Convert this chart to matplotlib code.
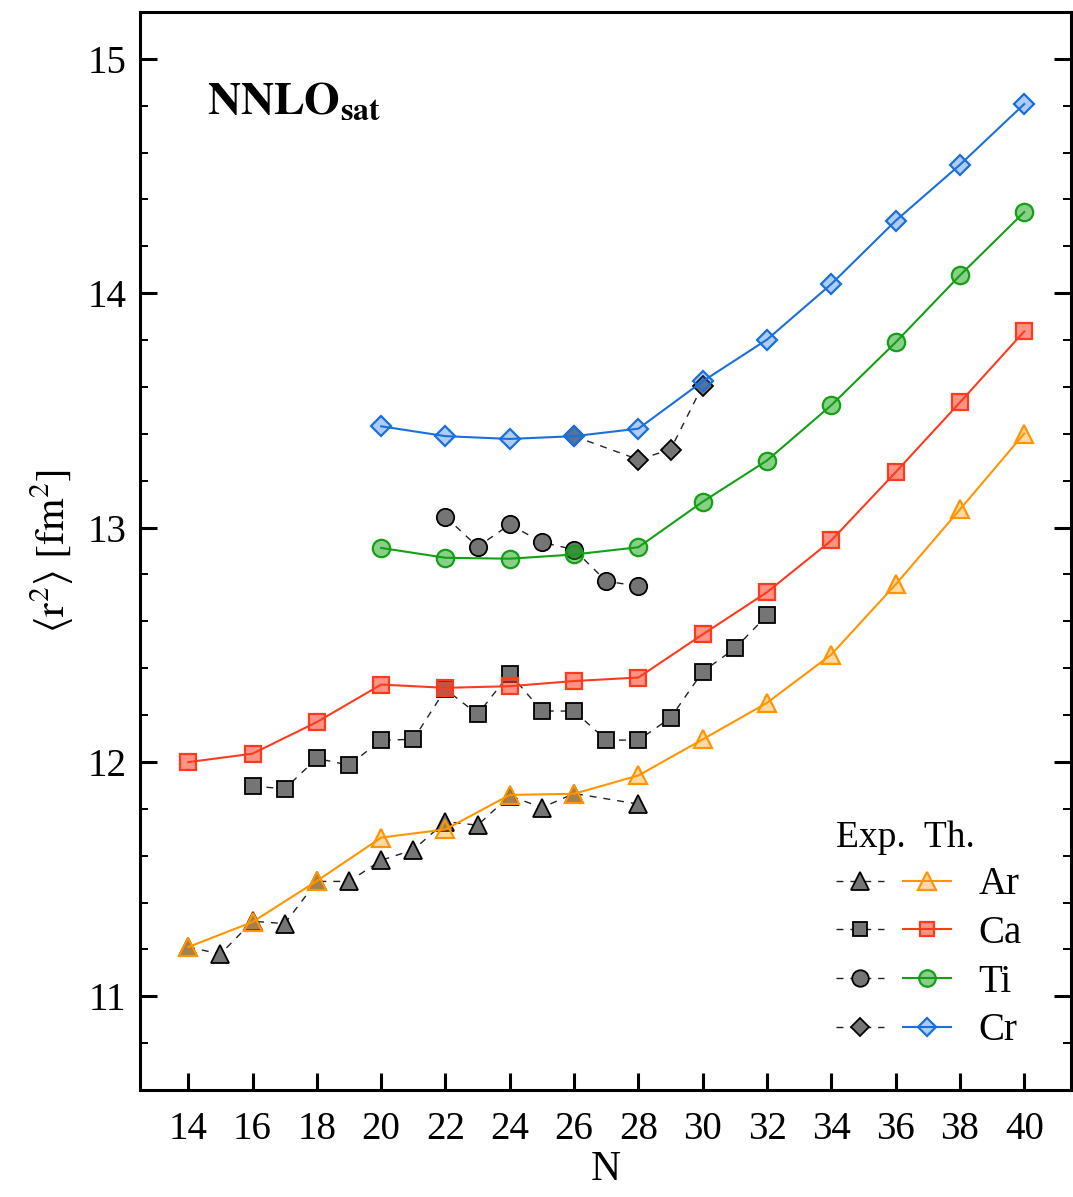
import matplotlib
matplotlib.use("Agg")
import matplotlib.pyplot as plt
from matplotlib.colors import to_rgba
from matplotlib.legend_handler import HandlerTuple
from matplotlib.ticker import MultipleLocator

plt.rcParams['font.family'] = ['Liberation Serif', 'DejaVu Serif']
plt.rcParams['mathtext.fontset'] = 'stix'

# Experimental mean-square charge radii
ar_exp_n = [14, 15, 16, 17, 18, 19, 20, 21, 22, 23, 24, 25, 26, 28]
ar_exp_r2 = [11.21, 11.18, 11.32, 11.31, 11.49, 11.49, 11.58, 11.625, 11.745,
             11.73, 11.855, 11.805, 11.865, 11.82]
ca_exp_n = [16, 17, 18, 19, 20, 21, 22, 23, 24, 25, 26, 27, 28, 29, 30, 31, 32]
ca_exp_r2 = [11.897, 11.885, 12.015, 11.986, 12.093, 12.096, 12.31, 12.203,
             12.377, 12.217, 12.217, 12.093, 12.093, 12.188, 12.385, 12.484, 12.625]
ti_exp_n = [22, 23, 24, 25, 26, 27, 28]
ti_exp_r2 = [13.046, 12.918, 13.013, 12.937, 12.906, 12.771, 12.75]
cr_exp_n = [26, 28, 29, 30]
cr_exp_r2 = [13.39, 13.29, 13.333, 13.606]

# NNLOsat results
ar_th_n = [14, 16, 18, 20, 22, 24, 26, 28, 30, 32, 34, 36, 38, 40]
ar_th_r2 = [11.21, 11.317, 11.492, 11.677, 11.712, 11.859, 11.864, 11.942,
            12.096, 12.252, 12.458, 12.757, 13.077, 13.401]
ca_th_n = [14, 16, 18, 20, 22, 24, 26, 28, 30, 32, 34, 36, 38, 40]
ca_th_r2 = [11.999, 12.035, 12.17, 12.33, 12.316, 12.323, 12.345, 12.36,
            12.544, 12.724, 12.945, 13.236, 13.534, 13.837]
ti_th_n = [20, 22, 24, 26, 28, 30, 32, 34, 36, 38, 40]
ti_th_r2 = [12.913, 12.871, 12.867, 12.885, 12.916, 13.11, 13.286, 13.522,
            13.79, 14.076, 14.346]
cr_th_n = [20, 22, 24, 26, 28, 30, 32, 34, 36, 38, 40]
cr_th_r2 = [13.432, 13.39, 13.378, 13.39, 13.422, 13.624, 13.802, 14.039,
            14.309, 14.548, 14.807]

elements = ['Ar', 'Ca', 'Ti', 'Cr']
markers = ['^', 's', 'o', 'D']
msizes = [13, 11, 12.5, 10]
th_colors = ['#ff9500', '#ff3b1f', '#14a014', '#1a6fdb']
face_alpha = [0.35, 0.55, 0.5, 0.35]

exp_sets = [(ar_exp_n, ar_exp_r2), (ca_exp_n, ca_exp_r2),
            (ti_exp_n, ti_exp_r2), (cr_exp_n, cr_exp_r2)]
th_sets = [(ar_th_n, ar_th_r2), (ca_th_n, ca_th_r2),
           (ti_th_n, ti_th_r2), (cr_th_n, cr_th_r2)]

fig = plt.figure(figsize=(10.73, 11.97), dpi=100)
ax = fig.add_axes([0.1305, 0.0894, 0.8675, 0.9006])

handles = []
for i, el in enumerate(elements):
    en, er = exp_sets[i]
    tn, tr = th_sets[i]
    he, = ax.plot(en, er, linestyle=(0, (5, 5)), color='#222222', lw=1.0,
                  marker=markers[i], ms=msizes[i], mfc='#757575', mec='black',
                  mew=1.3, zorder=2)
    ht, = ax.plot(tn, tr, linestyle='-', color=th_colors[i], lw=1.5,
                  marker=markers[i], ms=msizes[i],
                  mfc=to_rgba(th_colors[i], face_alpha[i]),
                  mec=th_colors[i], mew=1.6, zorder=3)
    handles.append((he, ht))

ax.set_xlim(12.5, 41.45)
ax.set_ylim(10.6, 15.2)
ax.xaxis.set_major_locator(MultipleLocator(2))
ax.yaxis.set_major_locator(MultipleLocator(1))
ax.yaxis.set_minor_locator(MultipleLocator(0.2))

for sp in ax.spines.values():
    sp.set_linewidth(2.2)

ax.tick_params(axis='both', which='major', direction='in', labelsize=28,
               width=2.2, length=12)
ax.tick_params(axis='y', which='major', right=True, length=12, pad=10)
ax.tick_params(axis='y', which='minor', direction='in', right=True,
               width=1.4, length=6)
ax.tick_params(axis='x', which='major', top=False, pad=15)

ax.set_xlabel('N', fontsize=30, labelpad=2)
ax.set_ylabel(r'$\langle\mathrm{r}^2\rangle\ [\mathrm{fm}^2]$', fontsize=30,
              labelpad=8)

ax.text(0.072, 0.905, r'$\mathbf{NNLO}_{\mathbf{sat}}$', transform=ax.transAxes,
        fontsize=33, ha='left', va='baseline')

leg = ax.legend(handles, elements,
                handler_map={tuple: HandlerTuple(ndivide=None, pad=0.5)},
                title='Exp.  Th.', title_fontsize=27, fontsize=28,
                loc='lower right', bbox_to_anchor=(0.972, 0.016),
                frameon=False, handlelength=2.95, handletextpad=0.7,
                labelspacing=0.3, borderaxespad=0.2, numpoints=1,
                markerscale=0.95)
leg._legend_box.align = 'left'

fig.savefig('out.png', dpi=100)
